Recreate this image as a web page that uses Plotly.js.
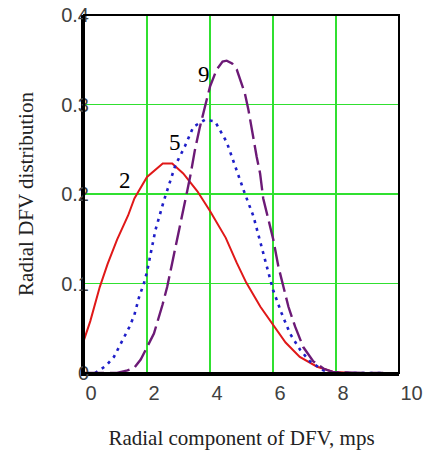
<!DOCTYPE html>
<html>
<head>
<meta charset="utf-8">
<script src="https://cdn.plot.ly/plotly-3.0.1.min.js"></script>
<style>html,body{margin:0;padding:0;background:#fff;}#chart{width:428px;height:454px;}</style>
</head>
<body>
<div id="chart"></div>
<script>
// Curve 2 (red, solid)
const x2 = [0, 0.2, 0.5, 0.75, 1.05, 1.4, 1.6, 2.0, 2.5, 2.8, 3.15, 3.6, 4.0, 4.5, 4.85, 5.15, 5.6, 6.0, 6.4, 6.85, 7.4, 7.9, 8.5, 9.0, 9.5];
const y2 = [0.037, 0.058, 0.096, 0.122, 0.149, 0.176, 0.195, 0.219, 0.234, 0.234, 0.223, 0.203, 0.181, 0.151, 0.123, 0.101, 0.074, 0.054, 0.034, 0.018, 0.007, 0.0015, 0, 0, 0];
// Curve 5 (blue, dotted)
const x5 = [0.35, 0.7, 0.95, 1.25, 1.45, 1.6, 1.75, 1.9, 2.0, 2.12, 2.27, 2.54, 2.75, 2.9, 3.2, 3.47, 3.84, 4.16, 4.53, 4.85, 5.1, 5.38, 5.55, 5.8, 6.0, 6.27, 6.54, 6.86, 7.17, 7.6, 8.0, 8.5, 9.0, 9.5];
const y5 = [0, 0.008, 0.018, 0.039, 0.052, 0.065, 0.085, 0.1, 0.113, 0.134, 0.16, 0.193, 0.216, 0.232, 0.253, 0.275, 0.283, 0.281, 0.258, 0.225, 0.201, 0.175, 0.152, 0.119, 0.093, 0.067, 0.044, 0.026, 0.013, 0.003, 0, 0, 0, 0];
// Curve 9 (purple, dashed)
const x9 = [0, 0.5, 1.05, 1.38, 1.6, 1.8, 2.0, 2.22, 2.49, 2.64, 2.8, 2.96, 3.12, 3.28, 3.39, 3.52, 3.68, 3.84, 4.0, 4.21, 4.4, 4.53, 4.7, 4.85, 5.11, 5.22, 5.32, 5.48, 5.59, 5.69, 5.85, 6.01, 6.17, 6.33, 6.49, 6.7, 6.96, 7.28, 7.6, 7.9, 8.5, 9.0, 9.5];
const y9 = [0, 0, 0, 0.003, 0.006, 0.015, 0.028, 0.044, 0.076, 0.096, 0.123, 0.149, 0.175, 0.204, 0.223, 0.249, 0.275, 0.298, 0.32, 0.339, 0.348, 0.349, 0.346, 0.339, 0.312, 0.294, 0.272, 0.242, 0.223, 0.195, 0.172, 0.149, 0.119, 0.095, 0.074, 0.052, 0.029, 0.013, 0.005, 0.001, 0, 0, 0];

const curveLabels = ["2", "5", "9"];
const labelX = [1.29, 2.89, 3.81];
const labelY = [0.215, 0.257, 0.334];

const xTitle = "Radial component of DFV, mps";
const yTitle = "Radial DFV distribution";

const traces = [
  {x: x2, y: y2, type: "scatter", mode: "lines", line: {color: "#e01818", width: 2}, hoverinfo: "none"},
  {x: x5, y: y5, type: "scatter", mode: "lines", line: {color: "#1e1ec8", width: 2.6, dash: "3px,5px"}, hoverinfo: "none"},
  {x: x9, y: y9, type: "scatter", mode: "lines", line: {color: "#6c1a76", width: 2.4, dash: "20px,6px"}, hoverinfo: "none"}
];

const tickFont = {family: "Liberation Sans, Arial, sans-serif", size: 20, color: "#404040"};
const serif = "Liberation Serif, Times New Roman, serif";

const layout = {
  width: 428, height: 454,
  margin: {l: 84, r: 29, t: 15, b: 81, pad: 0},
  paper_bgcolor: "#fff", plot_bgcolor: "#fff",
  showlegend: false,
  xaxis: {
    range: [0, 10], tick0: 0, dtick: 2, fixedrange: true,
    showgrid: true, gridcolor: "#30e030", gridwidth: 1.5, zeroline: false,
    showline: true, linecolor: "#000", linewidth: 3,
    ticks: "", ticklabelposition: "outside right",
    tickfont: tickFont,
    title: {text: xTitle, font: {family: serif, size: 21, color: "#222"}, standoff: 28}
  },
  yaxis: {
    range: [0, 0.4], tick0: 0, dtick: 0.1, fixedrange: true,
    showgrid: true, gridcolor: "#30e030", gridwidth: 1.5, zeroline: false,
    showline: true, linecolor: "#000", linewidth: 3,
    ticks: "", ticklabelstandoff: -12,
    tickfont: tickFont,
    title: {text: yTitle, font: {family: serif, size: 21, color: "#222"}, standoff: 22}
  },
  shapes: [{type: "rect", xref: "paper", yref: "paper", x0: 0, x1: 1, y0: 0, y1: 1, line: {color: "#000", width: 2}, layer: "above"}],
  annotations: curveLabels.map((t, i) => ({
    x: labelX[i], y: labelY[i], xref: "x", yref: "y", text: t, showarrow: false,
    font: {family: serif, size: 23, color: "#000"}
  }))
};

Plotly.newPlot("chart", traces, layout, {displayModeBar: false, staticPlot: true});
</script>
</body>
</html>
